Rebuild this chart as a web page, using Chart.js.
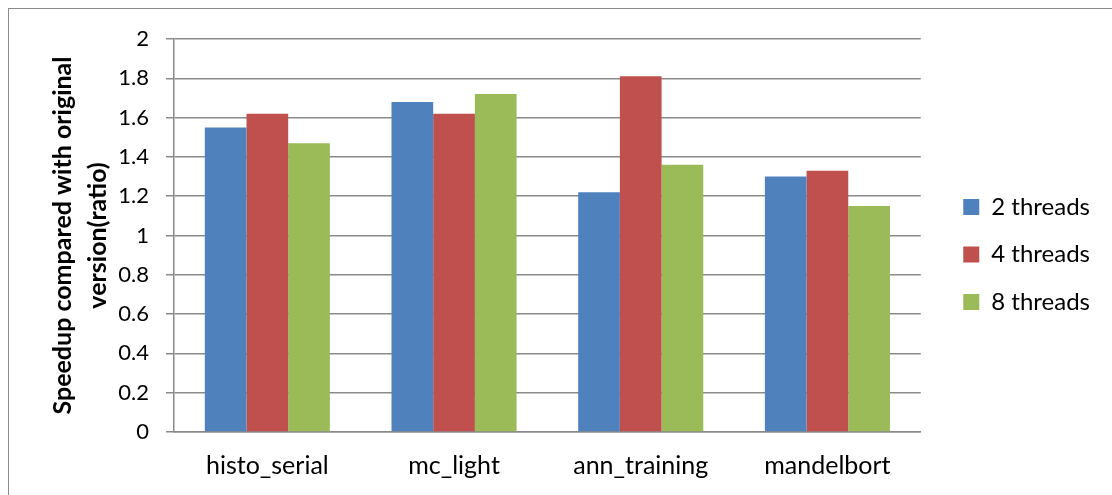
<!DOCTYPE html>
<html lang="en">
<head>
    <meta charset="UTF-8">
    <title>Speedup chart</title>
    <script src="https://cdn.jsdelivr.net/npm/chart.js"></script>
    <style>
        body { margin: 0; background: #fff; }
        #wrap { position: relative; width: 1112px; height: 495px; overflow: hidden; }
        #frame { position: absolute; left: 8px; top: 8px; width: 1200px; height: 600px; border: 1px solid #8a8a8a; }
        canvas { position: absolute; left: 0; top: 0; }
    </style>
</head>
<body>
<div id="wrap">
    <div id="frame"></div>
    <canvas id="speedup" width="1112" height="495"></canvas>
</div>

<script>
    // benchmarks on the x axis
    const categories = ['histo_serial', 'mc_light', 'ann_training', 'mandelbort'];

    // speedup ratios
    const threads2 = [1.55, 1.68, 1.22, 1.30];
    const threads4 = [1.62, 1.62, 1.81, 1.33];
    const threads8 = [1.47, 1.72, 1.36, 1.15];

    const yTickLabels = ['0', '0.2', '0.4', '0.6', '0.8', '1', '1.2', '1.4', '1.6', '1.8', '2'];

    const fontName = 'Lato';
    const gridColor = '#8a8a8a';

    // empty axes used only as spacers around the plot
    const spacer = (position, size) => ({
        position: position,
        display: true,
        afterFit: s => { if (s.isHorizontal()) s.height = size; else s.width = size; },
        ticks: { display: false },
        grid: { display: false },
        border: { display: false }
    });

    new Chart(document.getElementById('speedup'), {
        type: 'bar',
        data: {
            labels: categories,
            datasets: [
                { label: '2 threads', data: threads2, backgroundColor: '#4f81bd' },
                { label: '4 threads', data: threads4, backgroundColor: '#c0504d' },
                { label: '8 threads', data: threads8, backgroundColor: '#9bbb59' }
            ]
        },
        options: {
            responsive: false,
            animation: false,
            categoryPercentage: 0.67,
            barPercentage: 1.0,
            layout: { padding: { left: 0, top: 27, right: 12, bottom: 13 } },
            plugins: {
                tooltip: { enabled: false },
                legend: {
                    position: 'right',
                    labels: {
                        boxWidth: 16,
                        boxHeight: 16,
                        padding: 23.5,
                        color: '#000',
                        font: { family: fontName, size: 24 }
                    }
                }
            },
            scales: {
                x: {
                    afterFit: s => { s.height = 50; },
                    grid: { display: false },
                    border: { color: gridColor, width: 1.5 },
                    ticks: { color: '#000', padding: 11, font: { family: fontName, size: 25 } }
                },
                y: {
                    min: 0,
                    max: 2,
                    afterFit: s => { s.width = 174; },
                    ticks: {
                        stepSize: 0.2,
                        color: '#000',
                        padding: 17,
                        font: { family: fontName, size: 22 },
                        callback: (v, i) => yTickLabels[i]
                    },
                    grid: { color: gridColor, lineWidth: 1.5, tickLength: 8 },
                    border: { color: gridColor, width: 1.5 },
                    title: {
                        display: true,
                        text: ['Speedup compared with original', 'version(ratio)'],
                        color: '#000',
                        padding: { top: 45, bottom: 0 },
                        font: { family: fontName, size: 25, weight: 'bold', lineHeight: 1.4 }
                    }
                },
                gapTop: spacer('top', 12),
                gapRight: spacer('right', 19)
            }
        }
    });
</script>
</body>
</html>
